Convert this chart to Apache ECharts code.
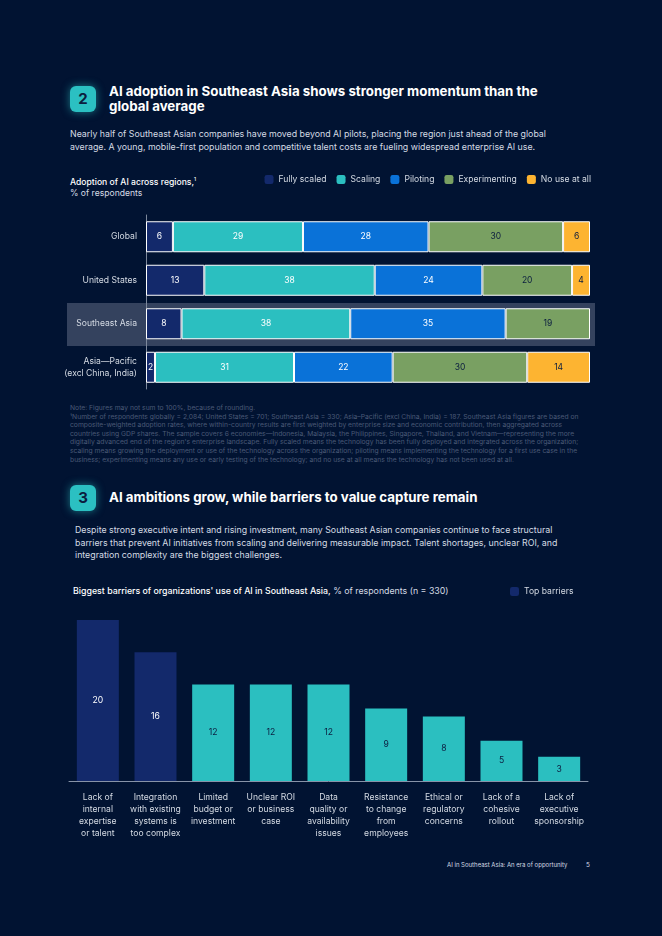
<!DOCTYPE html>
<html>
<head>
<meta charset="UTF-8">
<title>AI in Southeast Asia</title>
<script src="https://cdn.jsdelivr.net/npm/echarts@6/dist/echarts.min.js"></script>
<style type="text/css">
  *{margin:0;padding:0;}
  body{width:662px;height:936px;background:#011332;overflow:hidden;position:relative;font-family:'Inter','Roboto',sans-serif;color:#d5dbe4;}
  .t{position:absolute;white-space:nowrap;}
  .badge{position:absolute;width:26px;height:26px;border-radius:6px;background:#2bc0c2;color:#0b1d3f;font-weight:bold;font-size:15px;line-height:26px;text-align:center;box-shadow:0 0 9px rgba(43,192,194,0.6);}
  .h{font-size:13.3px;font-weight:bold;line-height:15px;color:#ffffff;}
  .p{font-size:8.8px;line-height:13px;}
  .ct{font-size:8.6px;line-height:11px;color:#ffffff;}
  .note{font-size:6.75px;line-height:8.6px;color:#4a5976;}
  #band{position:absolute;left:67px;top:303px;width:528px;height:43px;background:#34425e;}
  #main{position:absolute;left:0;top:0;width:662px;height:936px;}
</style>
</head>
<body>
  <div class="badge" style="left:70px;top:86px;">2</div>
  <div class="t h" style="left:109px;top:84px;">AI adoption in Southeast Asia shows stronger momentum than the<br>global average</div>
  <div class="t p" style="left:70px;top:127px;">Nearly half of Southeast Asian companies have moved beyond AI pilots, placing the region just ahead of the global<br>average. A young, mobile-first population and competitive talent costs are fueling widespread enterprise AI use.</div>
  <div class="t ct" style="left:70px;top:174px;"><span style="font-weight:500">Adoption of AI across regions,<sup style="font-size:5px">1</sup></span><br><span style="color:#d5dbe4">% of respondents</span></div>
  <div id="band"></div>
  <div class="t note" style="left:70px;top:404px;">Note: Figures may not sum to 100%, because of rounding.<br>¹Number of respondents globally = 2,084; United States = 701; Southeast Asia = 330; Asia–Pacific (excl China, India) = 187. Southeast Asia figures are based on<br>composite-weighted adoption rates, where within-country results are first weighted by enterprise size and economic contribution, then aggregated across<br>countries using GDP shares. The sample covers 6 economies—Indonesia, Malaysia, the Philippines, Singapore, Thailand, and Vietnam—representing the more<br>digitally advanced end of the region's enterprise landscape. Fully scaled means the technology has been fully deployed and integrated across the organization;<br>scaling means growing the deployment or use of the technology across the organization; piloting means implementing the technology for a first use case in the<br>business; experimenting means any use or early testing of the technology; and no use at all means the technology has not been used at all.</div>

  <div class="badge" style="left:70px;top:485px;">3</div>
  <div class="t h" style="left:109px;top:490px;">AI ambitions grow, while barriers to value capture remain</div>
  <div class="t p" style="left:75px;top:524px;line-height:12.5px;">Despite strong executive intent and rising investment, many Southeast Asian companies continue to face structural<br>barriers that prevent AI initiatives from scaling and delivering measurable impact. Talent shortages, unclear ROI, and<br>integration complexity are the biggest challenges.</div>
  <div class="t ct" style="left:73px;top:585px;font-size:8.8px;"><span style="font-weight:500">Biggest barriers of organizations' use of AI in Southeast Asia,</span><span style="color:#d5dbe4"> % of respondents (n = 330)</span></div>

  <div class="t" style="left:447px;top:861px;color:#d5dbe4;font-size:6px;line-height:8px;">AI in Southeast Asia: An era of opportunity</div>
  <div class="t" style="left:586px;top:861px;color:#d5dbe4;font-size:6.4px;line-height:8px;">5</div>

  <div id="main"></div>
<script type="text/javascript">
// adoption by region (% of respondents)
var regions = ['Global', 'United States', 'Southeast Asia', 'Asia\u2014Pacific\n(excl China, India)'];
var fullyScaled = [6, 13, 8, 2];
var scaling = [29, 38, 38, 31];
var piloting = [28, 24, 35, 22];
var experimenting = [30, 20, 19, 30];
var noUse = [6, 4, null, 14];

// barriers (% of respondents)
var barriers = ['Lack of\ninternal\nexpertise\nor talent', 'Integration\nwith existing\nsystems is\ntoo complex',
  'Limited\nbudget or\ninvestment', 'Unclear ROI\nor business\ncase', 'Data\nquality or\navailability\nissues',
  'Resistance\nto change\nfrom\nemployees', 'Ethical or\nregulatory\nconcerns', 'Lack of a\ncohesive\nrollout',
  'Lack of\nexecutive\nsponsorship'];
var barrierValues = [20, 16, 12, 12, 12, 9, 8, 5, 3];
var topCount = 2;

var NAVY = '#13296b', TEAL = '#2bbfc0', BLUE = '#0a72d8', GREEN = '#79a062', ORANGE = '#fdb431';

// rows sum to 99-100 because of rounding, the bars all fill the width
var rowSums = regions.map(function (r, i) {
  return fullyScaled[i] + scaling[i] + piloting[i] + experimenting[i] + (noUse[i] || 0);
});

function stackSeries(name, arr, color, labelColor) {
  return {
    name: name, type: 'bar', stack: 'adopt', xAxisIndex: 0, yAxisIndex: 0,
    barWidth: 31,
    itemStyle: {color: color, borderColor: '#ffffff', borderWidth: 1},
    label: {
      show: true, position: 'inside', color: labelColor, fontSize: 8.5,
      formatter: function (p) { return arr[p.dataIndex]; }
    },
    data: arr.map(function (v, i) { return v == null ? null : v * 100 / rowSums[i]; })
  };
}

var myChart = echarts.init(document.getElementById('main'));
var option = {
  backgroundColor: 'transparent',
  textStyle: {fontFamily: 'Inter'},
  animation: false,
  legend: [
    {
      data: ['Fully scaled', 'Scaling', 'Piloting', 'Experimenting', 'No use at all'],
      right: 66, top: 170, itemWidth: 9, itemHeight: 9, itemGap: 10,
      selectedMode: false,
      itemStyle: {borderWidth: 0},
      textStyle: {color: '#d5dbe4', fontSize: 8.6}
    },
    {
      data: ['Top barriers'],
      left: 505, top: 582, itemWidth: 9, itemHeight: 9,
      selectedMode: false,
      itemStyle: {borderWidth: 0},
      textStyle: {color: '#d5dbe4', fontSize: 8.6}
    }
  ],
  grid: [
    {left: 146, right: 72, top: 215, height: 174},
    {left: 69, right: 74, top: 620, bottom: 155}
  ],
  xAxis: [
    {type: 'value', gridIndex: 0, min: 0, max: 100, show: false},
    {
      type: 'category', gridIndex: 1, data: barriers,
      axisLine: {lineStyle: {color: '#8793a8', width: 1}},
      axisTick: {show: false},
      axisLabel: {interval: 0, color: '#d5dbe4', fontSize: 8.6, lineHeight: 12, margin: 10}
    }
  ],
  yAxis: [
    {
      type: 'category', gridIndex: 0, data: regions, inverse: true,
      axisLine: {lineStyle: {color: '#7d889c', width: 1}},
      axisTick: {show: false},
      axisLabel: {color: '#d5dbe4', fontSize: 8.6, lineHeight: 12, margin: 9}
    },
    {type: 'value', gridIndex: 1, min: 0, max: 20, show: false}
  ],
  series: [
    stackSeries('Fully scaled', fullyScaled, NAVY, '#ffffff'),
    stackSeries('Scaling', scaling, TEAL, '#ffffff'),
    stackSeries('Piloting', piloting, BLUE, '#ffffff'),
    stackSeries('Experimenting', experimenting, GREEN, '#0b1d3f'),
    stackSeries('No use at all', noUse, ORANGE, '#0b1d3f'),
    {
      name: 'Top barriers', type: 'bar', xAxisIndex: 1, yAxisIndex: 1,
      barWidth: 42,
      itemStyle: {color: NAVY},
      label: {show: true, position: 'inside', fontSize: 8.6},
      data: barrierValues.map(function (v, i) {
        var top = i < topCount;
        return {
          value: v,
          itemStyle: {color: top ? NAVY : TEAL},
          label: {color: top ? '#ffffff' : '#0b1d3f'}
        };
      })
    }
  ]
};
myChart.setOption(option);
</script>
</body>
</html>
